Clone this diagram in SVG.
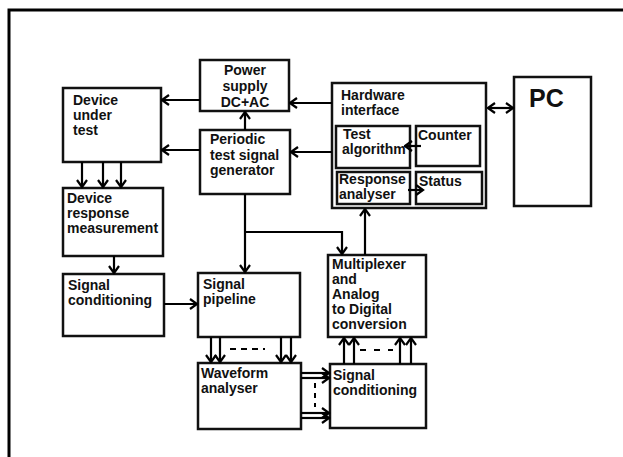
<svg xmlns="http://www.w3.org/2000/svg" width="623" height="457" viewBox="0 0 623 457">
<defs>
<marker id="ah" markerUnits="userSpaceOnUse" markerWidth="12" markerHeight="12" viewBox="0 0 12 12" refX="10.5" refY="6" orient="auto-start-reverse">
<path d="M3.5,1 L10.5,6 L3.5,11" fill="none" stroke="#000" stroke-width="2.2"/>
</marker>
</defs>
<style>
.box{fill:#fff;stroke:#111;stroke-width:2.5}
.ln{fill:none;stroke:#000;stroke-width:2.2}
.ar{fill:none;stroke:#000;stroke-width:2.2;marker-end:url(#ah)}
.dash{fill:none;stroke:#000;stroke-width:2}
text{font-family:"Liberation Sans",Arial,sans-serif;font-weight:bold;font-size:14px;fill:#111}
</style>
<rect x="0" y="0" width="623" height="457" fill="#fff"/>
<g id="frame">
<path d="M9,457 L9,10 L623,10" fill="none" stroke="#000" stroke-width="3"/>
</g>
<g id="power-supply">
<rect class="box" x="200" y="60" width="89" height="51"/>
<text x="245" y="75" text-anchor="middle">Power</text>
<text x="245" y="91" text-anchor="middle">supply</text>
<text x="245" y="107" text-anchor="middle">DC+AC</text>
</g>
<g id="device-under-test">
<rect class="box" x="63" y="88" width="98" height="74"/>
<text x="73" y="105">Device</text>
<text x="73" y="120">under</text>
<text x="73" y="135">test</text>
</g>
<g id="periodic-generator">
<rect class="box" x="200" y="130" width="90" height="64"/>
<text x="210" y="144">Periodic</text>
<text x="210" y="160">test signal</text>
<text x="210" y="175">generator</text>
</g>
<g id="device-response">
<rect class="box" x="63" y="188" width="100" height="68"/>
<text x="67" y="203">Device</text>
<text x="67" y="218">response</text>
<text x="67" y="233">measurement</text>
</g>
<g id="signal-conditioning-left">
<rect class="box" x="63" y="274" width="101" height="62"/>
<text x="68" y="290">Signal</text>
<text x="68" y="305">conditioning</text>
</g>
<g id="signal-pipeline">
<rect class="box" x="198" y="273" width="102" height="64"/>
<text x="203" y="289">Signal</text>
<text x="203" y="304">pipeline</text>
</g>
<g id="waveform-analyser">
<rect class="box" x="198" y="363" width="103" height="66"/>
<text x="201" y="378">Waveform</text>
<text x="201" y="393">analyser</text>
</g>
<g id="multiplexer">
<rect class="box" x="328" y="255" width="98" height="82"/>
<text x="332" y="269">Multiplexer</text>
<text x="332" y="284">and</text>
<text x="332" y="299">Analog</text>
<text x="332" y="314">to Digital</text>
<text x="332" y="329">conversion</text>
</g>
<g id="signal-conditioning-right">
<rect class="box" x="330" y="364" width="96" height="64"/>
<text x="333" y="380">Signal</text>
<text x="333" y="395">conditioning</text>
</g>
<g id="hardware-interface">
<rect class="box" x="332" y="83" width="154" height="125"/>
<text x="341" y="100">Hardware</text>
<text x="341" y="115">interface</text>
</g>
<g id="test-algorithm">
<rect class="box" x="336" y="126" width="74" height="42"/>
<text x="343" y="139">Test</text>
<text x="342" y="154">algorithm</text>
</g>
<g id="counter">
<rect class="box" x="416" y="126" width="64" height="40"/>
<text x="418" y="140">Counter</text>
</g>
<g id="response-analyser">
<rect class="box" x="337" y="172" width="73" height="32"/>
<text x="339" y="184">Response</text>
<text x="339" y="199">analyser</text>
</g>
<g id="status">
<rect class="box" x="416" y="172" width="66" height="32"/>
<text x="419" y="186">Status</text>
</g>
<g id="pc">
<rect class="box" x="514" y="77" width="77" height="129"/>
<text x="529" y="107" style="font-size:25px">PC</text>
</g>
<g id="connectors">
<path class="ar" d="M200,100 L162,100"/>
<path class="ar" d="M332,103 L290,103"/>
<path class="ar" d="M200,150 L162,150"/>
<path class="ar" d="M245,130 L245,112"/>
<path class="ar" d="M332,152 L291,152"/>
<path class="ar" d="M488,108 L513,108" style="marker-start:url(#ah)"/>
<path class="ar" d="M421,146 L405,146"/>
<path class="ar" d="M408,190 L423,190"/>
<path class="ar" d="M365,255 L365,209"/>
<path class="ar" d="M245,194 L245,272"/>
<path class="ar" d="M245,232 L342,232 L342,254"/>
<path class="ar" d="M82,162 L82,187"/>
<path class="ar" d="M103,162 L103,187"/>
<path class="ar" d="M121,162 L121,187"/>
<path class="ar" d="M114,256 L114,273"/>
<path class="ar" d="M164,304 L197,304"/>
<path class="ar" d="M211,337 L211,362"/>
<path class="ar" d="M220,337 L220,362"/>
<path class="ar" d="M281,337 L281,362"/>
<path class="ar" d="M291,337 L291,362"/>
<path class="dash" d="M230,349 L265,349" stroke-dasharray="6,5"/>
<path class="ar" d="M301,373 L329,373"/>
<path class="ar" d="M301,378 L329,378"/>
<path class="ar" d="M301,413 L329,413"/>
<path class="ar" d="M301,418 L329,418"/>
<path class="dash" d="M315,383 L315,407" stroke-dasharray="5,5"/>
<path class="ar" d="M344,364 L344,338"/>
<path class="ar" d="M354,364 L354,338"/>
<path class="ar" d="M400,364 L400,338"/>
<path class="ar" d="M411,364 L411,338"/>
<path class="dash" d="M360,350 L393,350" stroke-dasharray="6,8"/>
</g>
</svg>
